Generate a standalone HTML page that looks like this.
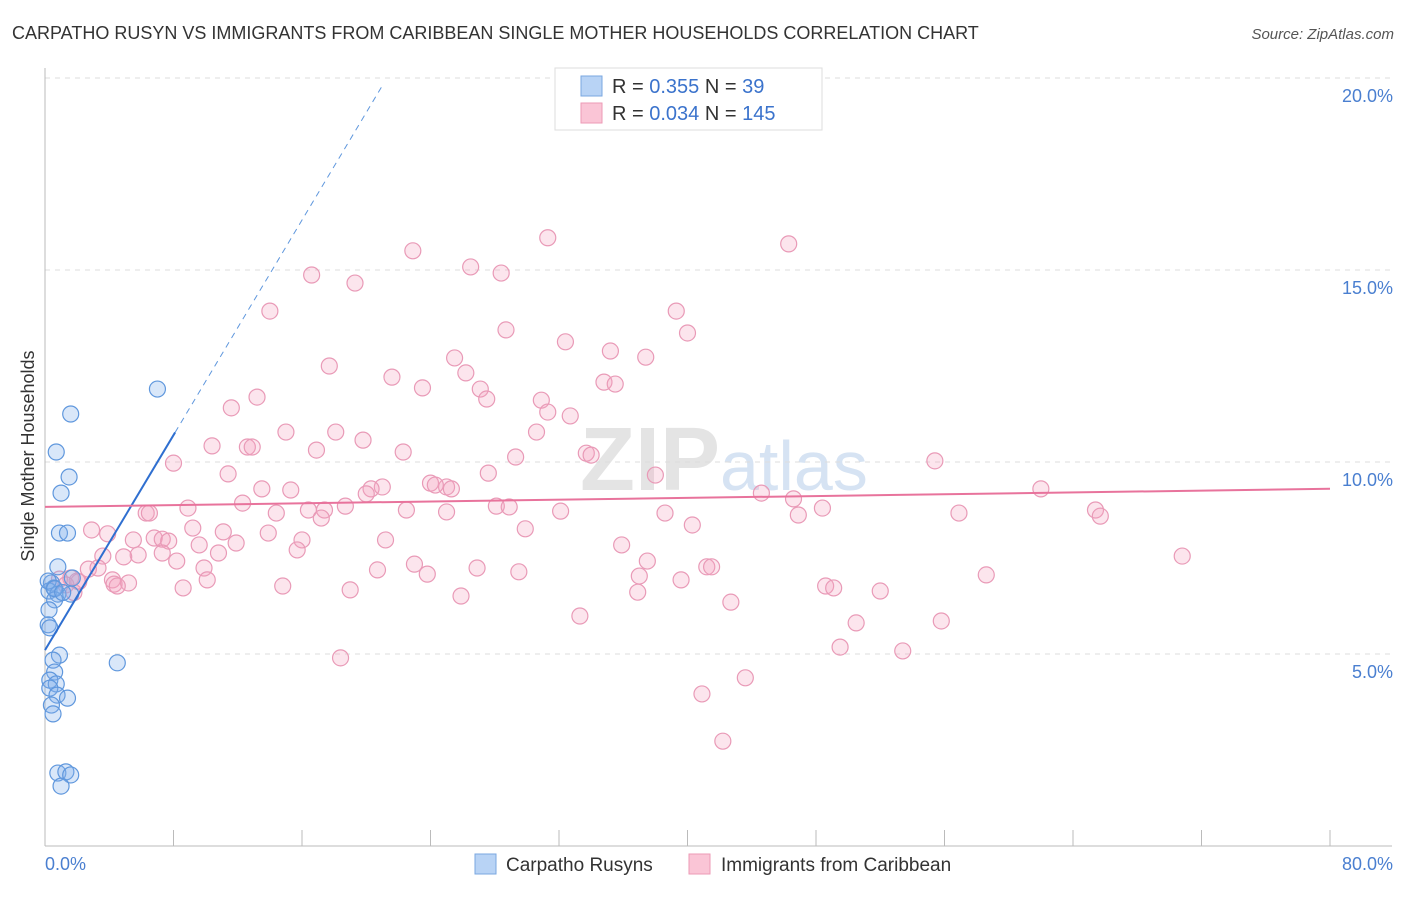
<!DOCTYPE html>
<html><head><meta charset="utf-8"><style>
body{margin:0;background:#fff;font-family:"Liberation Sans",sans-serif;}
svg text{font-family:"Liberation Sans",sans-serif;}
</style></head><body>
<svg width="1406" height="892" xmlns="http://www.w3.org/2000/svg">
<text x="12" y="39" font-size="18" fill="#333">CARPATHO RUSYN VS IMMIGRANTS FROM CARIBBEAN SINGLE MOTHER HOUSEHOLDS CORRELATION CHART</text>
<text x="1394" y="39" font-size="15" fill="#555" text-anchor="end" font-style="italic">Source: ZipAtlas.com</text>
<text x="720" y="490" font-size="90" fill="#e4e4e4" text-anchor="end" font-family="Liberation Serif" font-weight="bold">ZIP</text>
<text x="720" y="490" font-size="70" fill="#d6e3f3">atlas</text>
<g id="grid"></g><g id="axes"></g>
<g id="pink"></g><g id="blue"></g><g id="lines"></g>
<text transform="translate(34,456) rotate(-90)" font-size="18" fill="#333" text-anchor="middle">Single Mother Households</text>
<text x="45" y="870" font-size="18" fill="#4a7fd0">0.0%</text>
<text x="1393" y="870" font-size="18" fill="#4a7fd0" text-anchor="end">80.0%</text>
<g>
<rect x="555" y="68" width="267" height="62" fill="#fff" stroke="#ddd"/>
<rect x="581" y="76" width="21" height="20" fill="#b8d3f5" stroke="#7aa7e0"/>
<rect x="581" y="103" width="21" height="20" fill="#fac5d6" stroke="#ec9ab6"/>
<text x="612" y="93" font-size="20" fill="#333">R = <tspan fill="#3b73cc">0.355</tspan>   N = <tspan fill="#3b73cc">  39</tspan></text>
<text x="612" y="120" font-size="20" fill="#333">R = <tspan fill="#3b73cc">0.034</tspan>   N = <tspan fill="#3b73cc">145</tspan></text>
</g>
<g>
<rect x="475" y="854" width="21" height="20" fill="#b8d3f5" stroke="#7aa7e0"/>
<text x="506" y="871" font-size="19" fill="#333">Carpatho Rusyns</text>
<rect x="689" y="854" width="21" height="20" fill="#fac5d6" stroke="#ec9ab6"/>
<text x="721" y="871" font-size="19" fill="#333">Immigrants from Caribbean</text>
</g>
</svg>
<script>
const yTicks=[5,10,15,20];
const yTickLabels=["5.0%","10.0%","15.0%","20.0%"];
const xTicks=[0,8,16,24,32,40,48,56,64,72,80];
const blueX=[7.0,1.6,0.7,1.5,1.0,0.9,1.4,0.8,1.7,0.4,0.56,0.25,0.8,1.6,0.6,0.25,0.2,0.3,0.9,0.5,4.5,0.6,0.3,0.7,0.3,0.75,1.4,0.4,0.5,0.8,1.3,1.6,1.0,0.2,0.6,1.1];
const blueY=[11.9,11.25,10.26,9.61,9.19,8.15,8.15,7.27,6.98,6.85,6.72,6.64,6.56,6.56,6.41,6.15,5.76,5.68,4.97,4.84,4.77,4.53,4.32,4.22,4.11,3.93,3.85,3.67,3.44,1.9,1.93,1.85,1.56,6.9,6.7,6.6];
const pinkX=[31.3,46.3,22.9,26.5,28.4,16.6,19.3,14.0,39.3,28.7,40.0,32.4,35.2,37.4,25.5,17.7,26.2,21.6,34.8,35.5,23.5,27.1,13.2,27.5,30.9,11.6,31.3,32.7,18.1,15.0,30.6,19.8,10.4,12.6,12.9,16.9,22.3,33.7,34.0,29.3,55.4,8.0,11.4,27.6,38.0,24.0,25.0,24.3,25.3,21.0,20.3,13.5,15.3,20.0,62.0,44.6,46.6,12.3,18.7,28.1,28.9,8.9,16.4,17.4,22.5,48.4,65.4,65.7,56.9,46.9,38.6,32.1,25.0,14.4,6.3,6.5,17.2,40.3,29.9,9.2,2.9,11.1,13.9,3.9,6.8,7.3,7.7,5.5,21.2,16.0,11.9,35.9,9.6,15.7,10.8,7.3,3.6,5.8,70.8,4.9,8.2,37.5,23.0,2.7,20.7,26.9,41.2,41.5,3.3,9.9,23.8,29.5,58.6,37.0,4.2,1.6,10.1,39.6,2.1,4.3,14.8,5.2,4.5,48.6,49.1,8.6,19.0,52.0,36.9,25.9,42.7,33.3,50.5,55.8,49.5,53.4,18.4,43.6,40.9,42.2,0.9,1.3,1.8,2.0];
const pinkY=[15.84,15.68,15.5,15.08,14.92,14.87,14.66,13.93,13.93,13.44,13.36,13.13,12.89,12.73,12.71,12.5,12.32,12.21,12.08,12.03,11.93,11.9,11.69,11.64,11.61,11.41,11.3,11.2,10.78,10.78,10.78,10.57,10.42,10.39,10.39,10.31,10.26,10.23,10.18,10.13,10.03,9.97,9.69,9.71,9.66,9.45,9.35,9.4,9.3,9.35,9.3,9.3,9.27,9.17,9.3,9.19,9.04,8.93,8.85,8.85,8.83,8.8,8.75,8.75,8.75,8.8,8.75,8.59,8.67,8.62,8.67,8.72,8.7,8.67,8.67,8.67,8.54,8.36,8.26,8.28,8.23,8.18,8.15,8.13,8.02,7.99,7.94,7.97,7.97,7.97,7.89,7.84,7.84,7.71,7.63,7.63,7.55,7.58,7.55,7.53,7.42,7.42,7.34,7.21,7.19,7.24,7.27,7.27,7.24,7.24,7.08,7.14,7.06,7.03,6.93,6.98,6.93,6.93,6.88,6.82,6.77,6.85,6.77,6.77,6.72,6.72,6.67,6.64,6.61,6.51,6.35,5.99,5.81,5.86,5.18,5.08,4.9,4.38,3.96,2.73,6.95,6.8,6.6,6.9];
const blueFit=[5.1,0.70];
const pinkFit=[8.83,0.0059];
const X0=45,X1=1330,Y0=846,Y20=78;
const sx=v=>X0+(X1-X0)*v/80;
const sy=v=>Y0-(Y0-Y20)*v/20;
const NS="http://www.w3.org/2000/svg";
function mk(tag,attrs,parent){const e=document.createElementNS(NS,tag);for(const k in attrs)e.setAttribute(k,attrs[k]);document.getElementById(parent).appendChild(e);return e;}
yTicks.forEach((t,i)=>{
 const g=mk('line',{x1:X0,x2:1392,y1:sy(t),y2:sy(t),stroke:'#ddd','stroke-dasharray':'5,5'},'grid');
 
 
 const l=mk('text',{x:1393,y:sy(t)+24,'font-size':18,fill:'#4a7fd0','text-anchor':'end'},'grid');
 l.textContent=yTickLabels[i];
 
 
});
const ya=mk('line',{x1:X0,x2:X0,y1:68,y2:Y0,stroke:'#bbb'},'axes');


const xa=mk('line',{x1:X0,x2:1392,y1:Y0,y2:Y0,stroke:'#bbb'},'axes');


xTicks.forEach(t=>{
 const k=mk('line',{x1:sx(t),x2:sx(t),y1:830,y2:Y0,stroke:'#bbb'},'axes');
 
 
});
pinkX.forEach((x,i)=>{
 const c=mk('circle',{cx:sx(x),cy:sy(pinkY[i]),r:8,fill:'rgba(244,160,190,0.28)',stroke:'#e99ab7','stroke-width':1.2},'pink');
 
 
});
blueX.forEach((x,i)=>{
 const c=mk('circle',{cx:sx(x),cy:sy(blueY[i]),r:8,fill:'rgba(130,175,235,0.3)',stroke:'#5f97dd','stroke-width':1.2},'blue');
 
 
});
const bs=mk('line',{x1:sx(0),y1:sy(blueFit[0]),x2:sx(8.1),y2:sy(blueFit[0]+blueFit[1]*8.1),stroke:'#2f6fd0','stroke-width':2},'lines');


const bd=mk('line',{x1:sx(8.1),y1:sy(blueFit[0]+blueFit[1]*8.1),x2:sx(21.05),y2:sy(blueFit[0]+blueFit[1]*21.05),stroke:'#5f97dd','stroke-width':1,'stroke-dasharray':'6,5'},'lines');


const pl=mk('line',{x1:sx(0),y1:sy(pinkFit[0]),x2:sx(80),y2:sy(pinkFit[0]+pinkFit[1]*80),stroke:'#e8739c','stroke-width':2},'lines');


</script>
</body></html>
